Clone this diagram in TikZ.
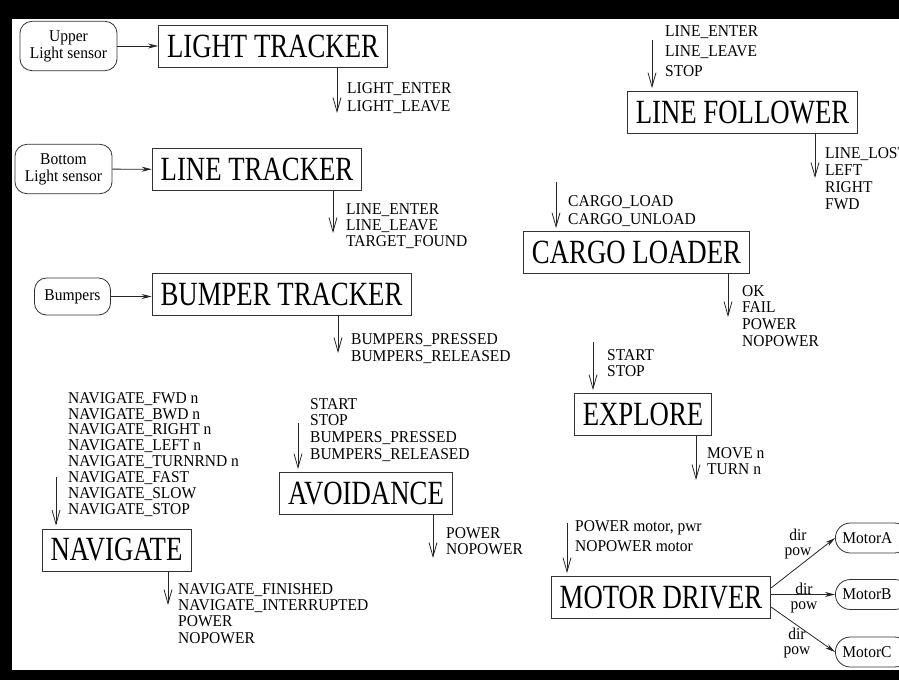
\documentclass[tikz,border=0pt]{standalone}
\usepackage{fontspec}
\setmainfont{Liberation Serif}[FakeStretch=0.94]
\newfontfamily\boxfont{Liberation Serif}[FakeStretch=0.79]
\usetikzlibrary{arrows.meta}

\begin{document}
\begin{tikzpicture}[
    x=1pt, y=-1pt,
    module/.style={draw=black!80, line width=0.8pt, minimum height=42pt, inner xsep=8.5pt, inner ysep=0pt, font=\boxfont\fontsize{33.9}{33.9}\selectfont},
    sensor/.style={draw=black!80, line width=0.8pt, rounded corners=12pt, align=center, inner xsep=10pt, inner ysep=9pt, minimum height=37pt, font=\fontsize{16.5}{17}\selectfont},
    motorbox/.style={sensor, rounded corners=15pt, minimum height=30pt, inner ysep=4pt, inner xsep=7pt, text width=60pt, align=left},
    msg/.style={anchor=north west, inner sep=0pt, align=left, font=\fontsize{16.5}{#1}\selectfont},
    msg/.default=16.5,
    sig/.style={-{Straight Barb[length=14pt,width=8pt]}, line width=0.8pt, draw=black!85},
    inarr/.style={sig, shorten >=3pt},
    feed/.style={-{Stealth[length=10pt,width=5pt]}, line width=0.8pt, draw=black!85},
]
    \useasboundingbox (0,0) rectangle (899,680);
    \fill[white] (0,0) rectangle (899,680);

    % ============= Light tracker =============
    \node[sensor] (upper) at (68.5,46) {Upper\\Light sensor};
    \node[module] (light) at (273,46) {LIGHT TRACKER};
    \draw[feed] (upper) -- (light);
    \coordinate (lightOut) at (337,113);
    \draw[sig] (light.south -| lightOut) -- (lightOut);
    \node[msg=18] (lightEv) at (347,82) {LIGHT\_ENTER\\LIGHT\_LEAVE};

    % ============= Line tracker =============
    \node[sensor] (bottom) at (63.5,169) {Bottom\\Light sensor};
    \node[module] (line) at (257,169.5) {LINE TRACKER};
    \draw[feed] (bottom) -- (line);
    \coordinate (lineOut) at (333,233);
    \draw[sig] (line.south -| lineOut) -- (lineOut);
    \node[msg=16] (lineEv) at (346,203) {LINE\_ENTER\\LINE\_LEAVE\\TARGET\_FOUND};

    % ============= Bumper tracker =============
    \node[sensor] (bumpers) at (72.5,296.5) {Bumpers};
    \node[module] (bump) at (281.5,294.5) {BUMPER TRACKER};
    \draw[feed] (bumpers) -- (bumpers -| bump.west);
    \coordinate (bumpOut) at (338,353);
    \draw[sig] (bump.south -| bumpOut) -- (bumpOut);
    \node[msg=17] (bumpEv) at (351,333) {BUMPERS\_PRESSED\\BUMPERS\_RELEASED};

    % ============= Line follower =============
    \node[module] (follow) at (742.5,112.5) {LINE FOLLOWER};
    \coordinate (followIn) at (652,40);
    \draw[inarr] (followIn) -- (followIn |- follow.north);
    \node[msg=20] (followInEv) at (665,25) {LINE\_ENTER\\LINE\_LEAVE\\STOP};
    \coordinate (followOut) at (815,178);
    \draw[sig] (follow.south -| followOut) -- (followOut);
    \node[msg=17] (followOutEv) at (825,147) {LINE\_LOST\\LEFT\\RIGHT\\FWD};

    % ============= Cargo loader =============
    \node[module] (cargo) at (636.5,252.5) {CARGO LOADER};
    \coordinate (cargoIn) at (556,182);
    \draw[inarr] (cargoIn) -- (cargoIn |- cargo.north);
    \node[msg=18] (cargoInEv) at (568,195) {CARGO\_LOAD\\CARGO\_UNLOAD};
    \coordinate (cargoOut) at (728,317);
    \draw[sig] (cargo.south -| cargoOut) -- (cargoOut);
    \node[msg=16.7] (cargoOutEv) at (742,285) {OK\\FAIL\\POWER\\NOPOWER};

    % ============= Explore =============
    \node[module] (explore) at (643,414.5) {EXPLORE};
    \coordinate (exploreIn) at (593,342);
    \draw[inarr] (exploreIn) -- (exploreIn |- explore.north);
    \node[msg=16] (exploreInEv) at (607,349) {START\\STOP};
    \coordinate (exploreOut) at (696,480);
    \draw[sig] (explore.south -| exploreOut) -- (exploreOut);
    \node[msg=16] (exploreOutEv) at (707,447) {MOVE n\\TURN n};

    % ============= Navigate =============
    \node[module] (nav) at (116.5,550) {NAVIGATE};
    \coordinate (navIn) at (56,477);
    \draw[inarr] (navIn) -- (navIn |- nav.north);
    \node[msg=15.9] (navInEv) at (68,392) {NAVIGATE\_FWD n\\NAVIGATE\_BWD n\\NAVIGATE\_RIGHT n\\NAVIGATE\_LEFT n\\NAVIGATE\_TURNRND n\\NAVIGATE\_FAST\\NAVIGATE\_SLOW\\NAVIGATE\_STOP};
    \coordinate (navOut) at (168,605);
    \draw[sig] (nav.south -| navOut) -- (navOut);
    \node[msg=16.3] (navOutEv) at (178,583) {NAVIGATE\_FINISHED\\NAVIGATE\_INTERRUPTED\\POWER\\NOPOWER};

    % ============= Avoidance =============
    \node[module] (avoid) at (366,493.5) {AVOIDANCE};
    \coordinate (avoidIn) at (298,423);
    \draw[inarr] (avoidIn) -- (avoidIn |- avoid.north);
    \node[msg=16.7] (avoidInEv) at (310,398) {START\\STOP\\BUMPERS\_PRESSED\\BUMPERS\_RELEASED};
    \coordinate (avoidOut) at (433,558);
    \draw[sig] (avoid.south -| avoidOut) -- (avoidOut);
    \node[msg=16] (avoidOutEv) at (446,527) {POWER\\NOPOWER};

    % ============= Motor driver =============
    \node[module] (motor) at (661,597.5) {MOTOR DRIVER};
    \coordinate (motorIn) at (567,523);
    \draw[inarr] (motorIn) -- (motorIn |- motor.north);
    \node[msg=20] (motorInEv) at (575,520) {POWER motor, pwr\\NOPOWER motor};
    \node[motorbox, anchor=west] (motA) at (835,538) {MotorA};
    \node[motorbox, anchor=west] (motB) at (835,594.5) {MotorB};
    \node[motorbox, anchor=west] (motC) at (835,652) {MotorC};
    \draw[feed] (motor.5) -- (motA.west);
    \draw[feed] (motor.east |- motB.west) -- (motB.west);
    \draw[feed] (motor.-5) -- (motC.west);
    \node[msg=15.5, anchor=center, align=center] (dirA) at (798,544) {dir\\pow};
    \node[msg=15.5, anchor=center, align=center] (dirB) at (804,598) {dir\\pow};
    \node[msg=15.5, anchor=center, align=center] (dirC) at (797,643) {dir\\pow};

    % black frame
    \fill[black] (0,0) rectangle (899,19);
    \fill[black] (0,0) rectangle (12,680);
    \fill[black] (0,670) rectangle (899,680);
\end{tikzpicture}
\end{document}
